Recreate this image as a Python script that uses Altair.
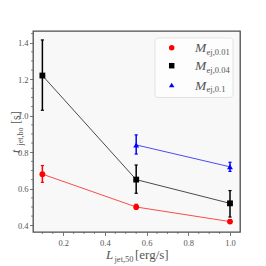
import altair as alt
import pandas as pd

# ---- data ----
x_red = [0.1, 0.55, 1.0]
y_red = [0.68, 0.50, 0.42]
lo_red = [0.635, 0.487, 0.41]
hi_red = [0.727, 0.515, 0.43]

x_black = [0.1, 0.55, 1.0]
y_black = [1.22, 0.65, 0.52]
lo_black = [1.03, 0.575, 0.445]
hi_black = [1.415, 0.73, 0.59]

x_blue = [0.55, 1.0]
y_blue = [0.84, 0.72]
lo_blue = [0.79, 0.695]
hi_blue = [0.895, 0.745]

x_major = [0.2, 0.4, 0.6, 0.8, 1.0]
y_major = [0.4, 0.6, 0.8, 1.0, 1.2, 1.4]
x_minor = [0.1, 0.15, 0.25, 0.3, 0.35, 0.45, 0.5, 0.55, 0.65, 0.7, 0.75, 0.85, 0.9, 0.95]
y_minor = [0.45, 0.5, 0.55, 0.65, 0.7, 0.75, 0.85, 0.9, 0.95, 1.05, 1.1, 1.15, 1.25, 1.3, 1.35, 1.45]

FONT = "Liberation Serif"
GRAY = "#555555"
W, H = 207, 201

xs = alt.Scale(domain=[0.055, 1.048], nice=False, zero=False)
ys = alt.Scale(domain=[0.363, 1.464], nice=False, zero=False)
XAX = alt.Axis(values=x_major, format=".1f", title=None)
YAX = alt.Axis(values=y_major, format=".1f", title=None)

def X(f):
    return alt.X(f, type="quantitative", scale=xs, axis=XAX)

def Y(f):
    return alt.Y(f, type="quantitative", scale=ys, axis=YAX)

def series(xv, yv, lo, hi, color, shape):
    df = pd.DataFrame({"x": xv, "y": yv, "lo": lo, "hi": hi})
    base = alt.Chart(df)
    line = base.mark_line(color=color, strokeWidth=1, opacity=0.7).encode(x=X("x"), y=Y("y"))
    bar = base.mark_rule(color=color, strokeWidth=1.5).encode(x=X("x"), y=Y("lo"), y2="hi:Q")
    cap_lo = base.mark_point(shape="M -1 0 L 1 0", filled=False, color=color, size=10,
                             strokeWidth=1.2, opacity=1).encode(x=X("x"), y=Y("lo"))
    cap_hi = base.mark_point(shape="M -1 0 L 1 0", filled=False, color=color, size=10,
                             strokeWidth=1.2, opacity=1).encode(x=X("x"), y=Y("hi"))
    pts = base.mark_point(shape=shape, filled=True, color=color, size=34, opacity=1).encode(
        x=X("x"), y=Y("y"))
    return [line, bar, cap_lo, cap_hi, pts]

minor_x = alt.Chart(pd.DataFrame({"v": x_minor})).mark_rule(color=GRAY, strokeWidth=0.7).encode(
    x=X("v"), y=alt.value(H), y2=alt.value(H + 2))
minor_y = alt.Chart(pd.DataFrame({"v": y_minor})).mark_rule(color=GRAY, strokeWidth=0.7).encode(
    y=Y("v"), x=alt.value(0), x2=alt.value(-2))

one = pd.DataFrame({"k": [0]})

def txt(s, x, y, size, italic=False, angle=0, align="left", color=GRAY):
    return alt.Chart(one).mark_text(
        text=s, font=FONT, fontSize=size, fontStyle="italic" if italic else "normal",
        angle=angle, align=align, baseline="alphabetic", color=color
    ).encode(x=alt.value(x), y=alt.value(y))

# x-axis title: L_{jet,50} [erg/s]
xt = [
    txt("L", 73, 228, 13, italic=True),
    txt("jet,50", 81.5, 231, 8.5),
    txt("[erg/s]", 102, 228, 13),
]
# y-axis title: t_{jet,bo} [s]
yt = [
    txt("t", -13.5, 122, 12, italic=True, angle=270),
    txt("jet,bo", -10.5, 114.5, 8, angle=270),
    txt("[s]", -13.5, 93, 12, angle=270),
]

# legend
leg_box = alt.Chart(one).mark_rect(fill="#fdfdfd", stroke="#dcdcdc", strokeWidth=0.8, cornerRadius=3).encode(
    x=alt.value(122), x2=alt.value(200), y=alt.value(7), y2=alt.value(66.5))
leg = [leg_box]
rows = [("circle", "red", "ej,0.01", 16.7), ("square", "black", "ej,0.04", 34.7), ("triangle-up", "blue", "ej,0.1", 54)]
for shape, color, sub, yy in rows:
    leg.append(alt.Chart(one).mark_point(shape=shape, filled=True, color=color, size=30, opacity=1).encode(
        x=alt.value(138.7), y=alt.value(yy)))
    leg.append(txt("M", 162, yy + 4.5, 13.5, italic=True))
    leg.append(txt(sub, 173.5, yy + 7, 8.5))

layers = [minor_x, minor_y]
layers += series(x_red, y_red, lo_red, hi_red, "red", "circle")
layers += series(x_black, y_black, lo_black, hi_black, "black", "square")
layers += series(x_blue, y_blue, lo_blue, hi_blue, "blue", "triangle-up")
layers += leg + xt + yt

chart = alt.layer(*layers).properties(
    width=W, height=H,
    autosize="none",
    padding={"left": 25, "top": 23, "right": 18, "bottom": 32},
).configure_view(
    fill="#f8f8f8", stroke="#4d4d4d", strokeWidth=1.3
).configure_axis(
    domain=False, grid=False, tickColor=GRAY, tickSize=3.5, tickWidth=0.8,
    labelFont=FONT, labelFontSize=8.5, labelColor=GRAY,
).configure_axisX(labelPadding=3).configure_axisY(labelPadding=1.5)

chart.save("out.html", embed_options={"renderer": "svg", "actions": False})
